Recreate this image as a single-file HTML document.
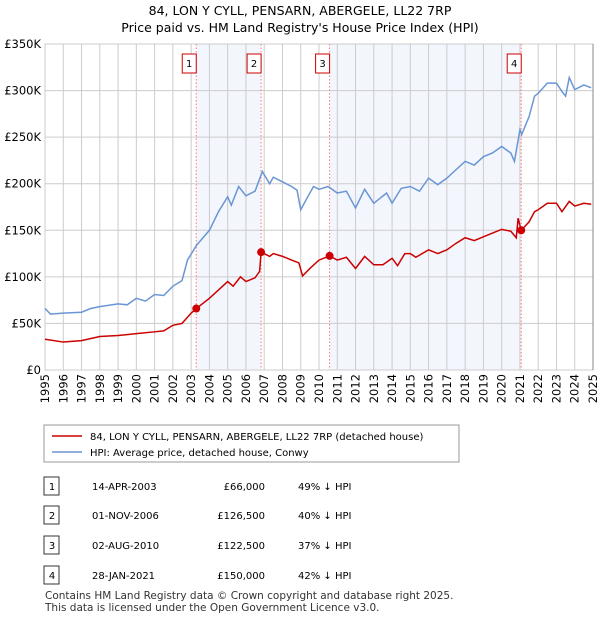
<!DOCTYPE html>
<html><head><meta charset="utf-8"><style>
body{margin:0;background:#fff;font-family:"Liberation Sans","DejaVu Sans",sans-serif;}
</style></head><body>
<svg width="600" height="620" xmlns="http://www.w3.org/2000/svg" font-family="DejaVu Sans, Liberation Sans, sans-serif">
<text x="300" y="15" text-anchor="middle" font-size="12.5">84, LON Y CYLL, PENSARN, ABERGELE, LL22 7RP</text>
<text x="300" y="32" text-anchor="middle" font-size="12.5">Price paid vs. HM Land Registry's House Price Index (HPI)</text>
<g id="plot"></g>
<g>
<rect x="44" y="425" width="415" height="37" fill="#fff" stroke="#999"/>
<line x1="52" y1="436" x2="82" y2="436" stroke="#cc0000" stroke-width="1.5"/>
<text x="90" y="440" font-size="10">84, LON Y CYLL, PENSARN, ABERGELE, LL22 7RP (detached house)</text>
<line x1="52" y1="452" x2="82" y2="452" stroke="#6a96d4" stroke-width="1.5"/>
<text x="90" y="456" font-size="10">HPI: Average price, detached house, Conwy</text>
</g>
<g id="table" font-size="10"></g>
<text x="45" y="599" font-size="10.5" fill="#333">Contains HM Land Registry data © Crown copyright and database right 2025.</text>
<text x="45" y="611" font-size="10.5" fill="#333">This data is licensed under the Open Government Licence v3.0.</text>
</svg>
<script>
const yTicks=[0,50000,100000,150000,200000,250000,300000,350000];
const yTickLabels=["£0","£50K","£100K","£150K","£200K","£250K","£300K","£350K"];
const xYears=[1995,1996,1997,1998,1999,2000,2001,2002,2003,2004,2005,2006,2007,2008,2009,2010,2011,2012,2013,2014,2015,2016,2017,2018,2019,2020,2021,2022,2023,2024,2025];
const hpiX=[1995,1995.3,1996,1997,1997.5,1998,1999,1999.5,2000,2000.5,2001,2001.5,2002,2002.5,2002.8,2003.3,2004,2004.5,2005,2005.2,2005.6,2006,2006.5,2006.9,2007.3,2007.5,2008,2008.5,2008.8,2009,2009.3,2009.7,2010,2010.5,2011,2011.5,2012,2012.5,2013,2013.7,2014,2014.5,2015,2015.5,2016,2016.5,2017,2017.5,2018,2018.5,2019,2019.5,2020,2020.5,2020.7,2021,2021.1,2021.5,2021.8,2022,2022.5,2023,2023.3,2023.5,2023.7,2024,2024.5,2024.9];
const hpiY=[66,60,61,62,66,68,71,70,77,74,81,80,90,96,118,134,150,170,186,177,197,187,192,213,200,207,202,197,193,172,183,197,194,197,190,192,174,194,179,190,179,195,197,192,206,199,206,215,224,220,229,233,240,233,224,258,253,272,294,297,308,308,299,294,314,301,306,303];
const redX=[1995,1996,1997,1998,1999,2000,2001,2001.5,2002,2002.5,2003,2003.28,2004,2004.5,2005,2005.3,2005.7,2006,2006.5,2006.75,2006.83,2007.3,2007.5,2008,2008.5,2008.9,2009.1,2009.5,2010,2010.58,2011,2011.5,2012,2012.5,2013,2013.5,2014,2014.3,2014.7,2015,2015.3,2016,2016.5,2017,2017.5,2018,2018.5,2019,2019.5,2020,2020.5,2020.8,2020.9,2021.07,2021.5,2021.8,2022,2022.5,2023,2023.3,2023.7,2024,2024.5,2024.9];
const redY=[33,30,31.5,36,37,39,41,42,48,50,61,66,77,86,95,90,100,95,99,106,126.5,122,125,122,118,115,101,109,118,122.5,118,121,109,122,113,113,120,112,125,125,121,129,125,129,136,142,139,143,147,151,149,142,163,150,159,170,172,179,179,170,181,176,179,178];
const saleLabels=["1","2","3","4"];
const saleDates=[2003.28,2006.83,2010.58,2021.07];
const salePrices=[66000,126500,122500,150000];
const saleDateText=["14-APR-2003","01-NOV-2006","02-AUG-2010","28-JAN-2021"];
const salePriceText=["£66,000","£126,500","£122,500","£150,000"];
const saleHpiText=["49% ↓ HPI","40% ↓ HPI","37% ↓ HPI","42% ↓ HPI"];

const NS="http://www.w3.org/2000/svg";
const L=45,R=593,T=44,B=370;
const xs=v=>L+(v-1995)/30*(R-L);
const ys=v=>B-v/350000*(B-T);
function mk(tag,attrs,parent){const e=document.createElementNS(NS,tag);for(const k in attrs)e.setAttribute(k,attrs[k]);parent.appendChild(e);return e;}
const plot=document.getElementById('plot');
for(let i=0;i<2;i++){const r=mk('rect',{x:xs(saleDates[i*2]),y:T,width:xs(saleDates[i*2+1])-xs(saleDates[i*2]),height:B-T,fill:'#f3f6fd'},plot);

}
yTicks.forEach((t,i)=>{const l=mk('line',{x1:L,x2:R,y1:ys(t),y2:ys(t),stroke:'#ccc'},plot);


const tx=mk('text',{x:L-4,y:ys(t)+4,'text-anchor':'end','font-size':11.5},plot);tx.textContent=yTickLabels[i];

});
xYears.forEach(yr=>{const l=mk('line',{x1:xs(yr),x2:xs(yr),y1:T,y2:B,stroke:'#ccc'},plot);


const tx=mk('text',{x:0,y:0,'text-anchor':'end','font-size':11.5,transform:`translate(${xs(yr)+4},374) rotate(-90)`},plot);tx.textContent=yr;

});
const fr=mk('rect',{x:L,y:T,width:R-L,height:B-T,fill:'none',stroke:'#ccc'},plot);


const ra=mk('line',{x1:R,x2:R,y1:T,y2:B,stroke:'#888'},plot);


saleDates.forEach((d,i)=>{const l=mk('line',{x1:xs(d),x2:xs(d),y1:T,y2:B,stroke:'#f77','stroke-dasharray':'1.5,2'},plot);


const bx=mk('rect',{x:xs(d)-14,y:54,width:14,height:19,fill:'#fff',stroke:'#cc0000'},plot);


const t=mk('text',{x:xs(d)-7,y:67,'text-anchor':'middle','font-size':10},plot);t.textContent=saleLabels[i];

});
const hp=mk('polyline',{points:hpiX.map((x,i)=>xs(x)+','+ys(hpiY[i]*1000)).join(' '),fill:'none',stroke:'#6a96d4','stroke-width':1.5},plot);


const rp=mk('polyline',{points:redX.map((x,i)=>xs(x)+','+ys(redY[i]*1000)).join(' '),fill:'none',stroke:'#cc0000','stroke-width':1.5},plot);


saleDates.forEach((d,i)=>{const c=mk('circle',{cx:xs(d),cy:ys(salePrices[i]),r:4,fill:'#cc0000'},plot);

});
const tb=document.getElementById('table');
const rowY=[487,516,546,576];
rowY.forEach((y,i)=>{const b=mk('rect',{x:44,y:y-10,width:15,height:18,fill:'#fff',stroke:'#333'},tb);


const vals=[[52,saleLabels[i],'middle'],[92,saleDateText[i],'start'],[265,salePriceText[i],'end'],[298,saleHpiText[i],'start']];
vals.forEach(v=>{const t=mk('text',{x:v[0],y:y+3,'text-anchor':v[2]},tb);t.textContent=v[1];

});});
</script>
</body></html>
